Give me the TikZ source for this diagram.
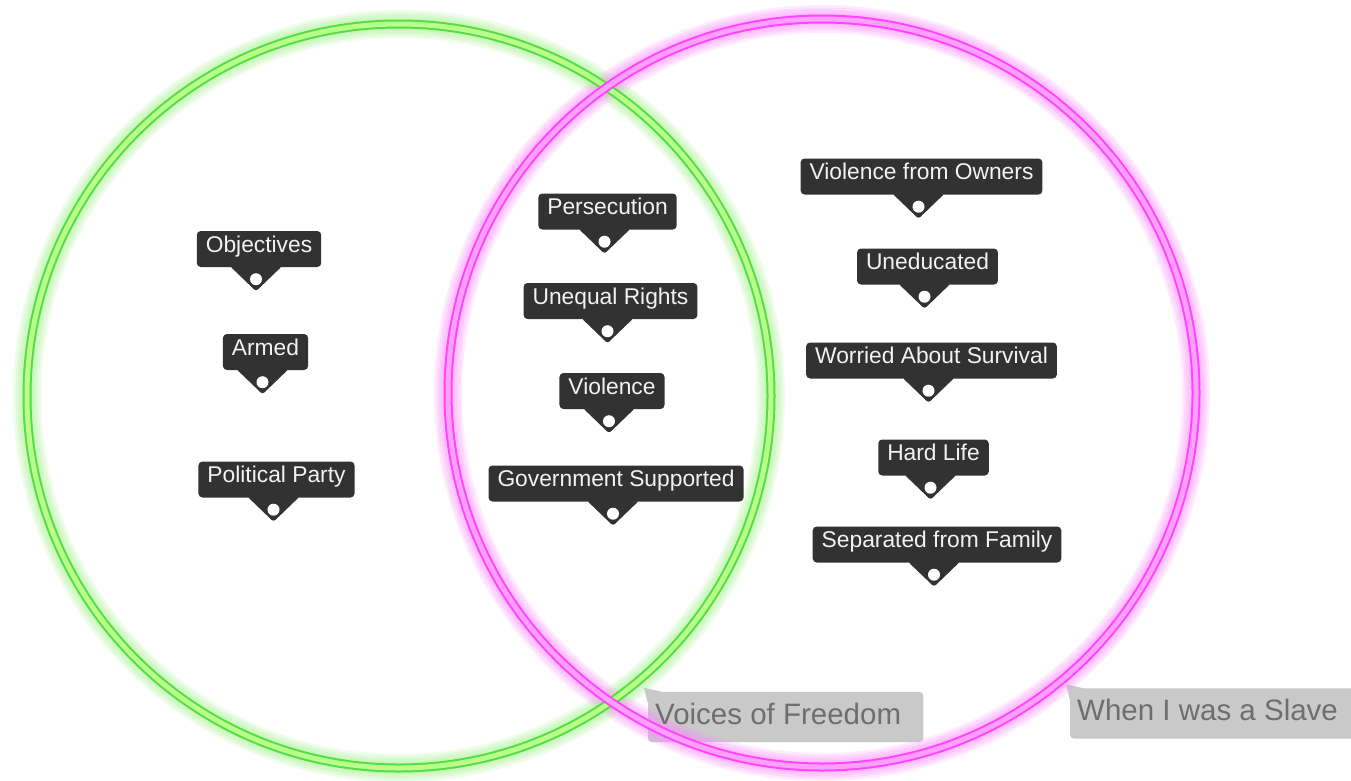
\documentclass[tikz,border=0pt]{standalone}
\usepackage{fontspec}
\setmainfont{Liberation Sans}
\definecolor{tagdark}{HTML}{323232}
\definecolor{tagtext}{HTML}{F2F2F2}
\definecolor{greenline}{HTML}{55DD44}
\definecolor{greenlight}{HTML}{B8FF8C}
\definecolor{greenglow}{HTML}{A0F088}
\definecolor{pinkline}{HTML}{FF44FF}
\definecolor{pinklight}{HTML}{FFA0FF}
\definecolor{pinkglow}{HTML}{FF88FF}
\definecolor{capfill}{HTML}{C9C9C9}
\definecolor{captext}{HTML}{6E6E6E}
\pgfdeclarelayer{back}
\pgfsetlayers{back,main}
\tikzset{
  tag/.style={fill=tagdark, text=tagtext, rounded corners=4pt, inner xsep=9pt, inner ysep=5pt,
    text height=16.3pt, text depth=9.7pt, font=\fontsize{22.8}{27}\selectfont},
  setlabel/.style={anchor=west, text=captext, inner xsep=7pt, inner ysep=0pt,
    text height=32.3pt, text depth=17.7pt, font=\fontsize{29.5}{34}\selectfont},
}
\begin{document}
\begin{tikzpicture}[x=1pt,y=-1pt]
\useasboundingbox (0,0) rectangle (1351,780);
\coordinate (gc) at (399,396);
\coordinate (pc) at (822,393);
% glow
\foreach \w in {28,23,18,13}{
  \draw[greenglow, line width=\w pt, opacity=0.18] (gc) circle [radius=372pt];
  \draw[pinkglow, line width=\w pt, opacity=0.18] (pc) circle [radius=374pt];
}
\draw[greenline, line width=9pt] (gc) circle [radius=372pt];
\draw[greenlight, line width=5pt] (gc) circle [radius=372pt];
\draw[pinkline, line width=9pt] (pc) circle [radius=374pt];
\draw[pinklight, line width=5pt] (pc) circle [radius=374pt];

% tags
\node[tag] (objectives) at (259,249) {Objectives};
\node[tag] (armed) at (265.5,352) {Armed};
\node[tag] (party) at (276.5,479.5) {Political Party};
\node[tag] (persecution) at (607.5,211.5) {Persecution};
\node[tag] (unequal) at (610.5,301) {Unequal Rights};
\node[tag] (violence) at (612,391) {Violence};
\node[tag] (government) at (616,483.5) {Government Supported};
\node[tag] (owners) at (921.5,176.5) {Violence from Owners};
\node[tag] (uneducated) at (927.5,266.5) {Uneducated};
\node[tag] (survival) at (931.5,360.5) {Worried About Survival};
\node[tag] (hardlife) at (933.5,457.5) {Hard Life};
\node[tag] (separated) at (937,544.5) {Separated from Family};
\foreach \n in {objectives,armed,party,persecution,unequal,violence,government,
                owners,uneducated,survival,hardlife,separated}{
  \fill[tagdark, rounded corners=2.5pt] ([xshift=-29pt,yshift=1pt]\n.south)
    -- ([xshift=23pt,yshift=1pt]\n.south) -- ([xshift=-3pt,yshift=-24pt]\n.south) -- cycle;
  \fill[white] ([xshift=-3pt,yshift=-12pt]\n.south) circle (6pt);
}

% set names
\node[setlabel] (voices) at (648,717) {Voices of Freedom};
\node[setlabel] (slave) at (1070,713.5) {When I was a Slave};
\begin{pgfonlayer}{back}
\fill[capfill, rounded corners=4pt] (voices.north west) rectangle ([xshift=15pt]voices.south east);
\fill[capfill] ([yshift=-12pt]voices.north west) -- ([xshift=-4pt,yshift=4pt]voices.north west)
  -- ([xshift=14pt]voices.north west) -- cycle;
\fill[capfill, rounded corners=4pt] (slave.north west) rectangle ([xshift=30pt]slave.south east);
\fill[capfill] ([yshift=-12pt]slave.north west) -- ([xshift=-4pt,yshift=4pt]slave.north west)
  -- ([xshift=14pt]slave.north west) -- cycle;
\end{pgfonlayer}
\end{tikzpicture}
\end{document}
